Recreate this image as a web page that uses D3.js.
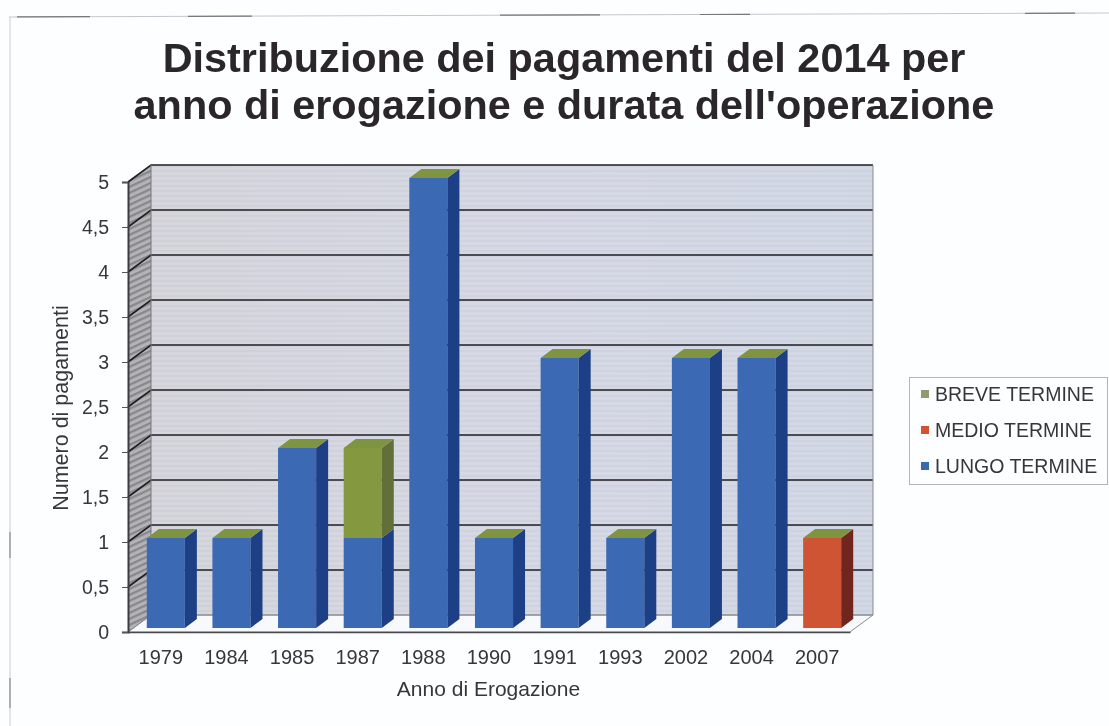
<!DOCTYPE html>
<html>
<head>
<meta charset="utf-8">
<script src="https://cdn.jsdelivr.net/npm/d3@7"></script>
<style>
  html, body { margin: 0; padding: 0; background: #fdfeff; overflow: hidden; }
  svg { display: block; font-family: "Liberation Sans", Arial, sans-serif; filter: blur(0.6px); }
</style>
</head>
<body>
<div id="chart"></div>
<script>
const years = ["1979", "1984", "1985", "1987", "1988", "1990", "1991", "1993", "2002", "2004", "2007"];
const lungoTermine = [1, 1, 2, 1, 5, 1, 3, 1, 3, 3, 0];
const medioTermine = [0, 0, 0, 0, 0, 0, 0, 0, 0, 0, 1];
const breveTermine = [0, 0, 0, 1, 0, 0, 0, 0, 0, 0, 0];
const yTicks = [0, 0.5, 1, 1.5, 2, 2.5, 3, 3.5, 4, 4.5, 5];
const titleLines = ["Distribuzione dei pagamenti del 2014 per", "anno di erogazione e durata dell'operazione"];
const legendLabels = ["BREVE TERMINE", "MEDIO TERMINE", "LUNGO TERMINE"];

const width = 1109, height = 726;
const plot = { left: 128, right: 850, top: 182, bottom: 632 };
const wall = { dx: 23, dy: -17 };   // back wall offset from the front plane
const barOff = { dx: 5, dy: -4 };   // bars sit a little behind the front plane
const depth = { dx: 12, dy: -9 };
const textColor = "#38363a";

const colors = {
    lungo: { front: "#3c69b4", side: "#1c3f85" },
    medio: { front: "#cf5434", side: "#70261f" },
    breve: { front: "#84983f", side: "#626f3a" }
};
const topColor = "#7f9440";

const svg = d3.select("#chart").append("svg").attr("width", width).attr("height", height);
const defs = svg.append("defs");

const xScale = d3.scaleBand().domain(years).range([plot.left, plot.right]).paddingInner(0.42).paddingOuter(0.21);
const yScale = d3.scaleLinear().domain([0, 5]).range([plot.bottom, plot.top]);

// wall fills
const wallGrad = defs.append("linearGradient").attr("id", "wallGrad");
wallGrad.append("stop").attr("offset", "0%").attr("stop-color", "#d6d6dc");
wallGrad.append("stop").attr("offset", "55%").attr("stop-color", "#d6d9e5");
wallGrad.append("stop").attr("offset", "100%").attr("stop-color", "#d2d8e6");

const wallLines = defs.append("pattern").attr("id", "wallLines").attr("patternUnits", "userSpaceOnUse")
    .attr("width", 6).attr("height", 5);
wallLines.append("rect").attr("width", 6).attr("height", 2).attr("fill", "#bfc0cc").attr("opacity", 0.25);

const sideHatch = defs.append("pattern").attr("id", "sideHatch").attr("patternUnits", "userSpaceOnUse")
    .attr("width", 23).attr("height", 6).attr("patternTransform", "skewY(-25)");
sideHatch.append("rect").attr("width", 23).attr("height", 6).attr("fill", "#b4b4b8");
sideHatch.append("rect").attr("width", 23).attr("height", 2.5).attr("fill", "#88888c");

function poly(points) {
    return d3.line()(points) + "Z";
}

// background walls and floor
const x0 = plot.left, x1 = plot.right, y0 = yScale(0), y5 = yScale(5);
const backLeft = x0 + wall.dx, backRight = x1 + wall.dx;

svg.append("rect").attr("x", backLeft).attr("y", y5 + wall.dy)
    .attr("width", backRight - backLeft).attr("height", y0 - y5).attr("fill", "url(#wallGrad)");
svg.append("rect").attr("x", backLeft).attr("y", y5 + wall.dy)
    .attr("width", backRight - backLeft).attr("height", y0 - y5).attr("fill", "url(#wallLines)");

svg.append("path")
    .attr("d", poly([[x0, y5], [backLeft, y5 + wall.dy], [backLeft, y0 + wall.dy], [x0, y0]]))
    .attr("fill", "url(#sideHatch)");

svg.append("path")
    .attr("d", poly([[x0, y0], [backLeft, y0 + wall.dy], [backRight, y0 + wall.dy], [x1, y0]]))
    .attr("fill", "#f8f9fd").attr("stroke", "#8a8a8e").attr("stroke-width", 1);

// grid lines along side wall and back wall
yTicks.forEach(t => {
    const y = yScale(t);
    svg.append("path")
        .attr("d", d3.line()([[x0, y], [backLeft, y + wall.dy], [backRight, y + wall.dy]]))
        .attr("fill", "none")
        .attr("stroke", t === 0 ? "#8a8a8e" : "#1f1f23")
        .attr("stroke-width", t === 0 ? 1 : 1.6);
});
svg.append("line").attr("x1", backRight).attr("x2", backRight)
    .attr("y1", y5 + wall.dy).attr("y2", y0 + wall.dy)
    .attr("stroke", "#8a8a90").attr("stroke-width", 1);
svg.append("line").attr("x1", backLeft).attr("x2", backLeft)
    .attr("y1", y5 + wall.dy).attr("y2", y0 + wall.dy)
    .attr("stroke", "#77777c").attr("stroke-width", 1);

// stacked 3d bars
const stackKeys = ["lungo", "medio", "breve"];
const stackData = years.map((year, i) => ({
    year: year, lungo: lungoTermine[i], medio: medioTermine[i], breve: breveTermine[i]
}));
const series = d3.stack().keys(stackKeys)(stackData);

const bars = svg.append("g").selectAll("g").data(stackData).join("g");

bars.each(function(d) {
    const g = d3.select(this);
    const xa = xScale(d.year) + barOff.dx;
    const xb = xa + xScale.bandwidth();
    let top = 0;
    stackKeys.forEach(key => {
        const s = series.find(v => v.key === key).find(v => v.data.year === d.year);
        if (s[1] === s[0]) return;
        const ya = yScale(s[1]) + barOff.dy;
        const yb = yScale(s[0]) + barOff.dy;
        g.append("rect").attr("x", xa).attr("y", ya).attr("width", xb - xa).attr("height", yb - ya)
            .attr("fill", colors[key].front);
        g.append("path")
            .attr("d", poly([[xb, ya], [xb + depth.dx, ya + depth.dy], [xb + depth.dx, yb + depth.dy], [xb, yb]]))
            .attr("fill", colors[key].side);
        top = s[1];
    });
    const yt = yScale(top) + barOff.dy;
    g.append("path")
        .attr("d", poly([[xa, yt], [xa + depth.dx, yt + depth.dy], [xb + depth.dx, yt + depth.dy], [xb, yt]]))
        .attr("fill", topColor);
});

// axes
const yAxis = d3.axisLeft(yScale).tickValues(yTicks)
    .tickFormat(d => String(d).replace(".", ",")).tickSize(6).tickPadding(13);
const yG = svg.append("g").attr("transform", `translate(${plot.left},0)`).call(yAxis);
yG.select(".domain").attr("stroke", "#3c3c40").attr("stroke-width", 2);
yG.selectAll("line").attr("stroke", "#55555a");
yG.selectAll("text").attr("fill", textColor).style("font-size", "19.5px").style("font-family", "inherit");

const xAxis = d3.axisBottom(xScale).tickSize(0).tickPadding(18);
const xG = svg.append("g").attr("transform", `translate(0,${plot.bottom})`).call(xAxis);
xG.select(".domain").attr("stroke", "#4a4a4e").attr("stroke-width", 1.5);
xG.selectAll("text").attr("fill", textColor).style("font-size", "20px").style("font-family", "inherit");

// axis titles
svg.append("text").attr("x", 488.5).attr("y", 696).attr("text-anchor", "middle")
    .attr("fill", textColor).style("font-size", "21px").text("Anno di Erogazione");
svg.append("text").attr("transform", "translate(68,408) rotate(-90)").attr("text-anchor", "middle")
    .attr("fill", textColor).style("font-size", "21.5px").text("Numero di pagamenti");

// title
svg.selectAll(".title").data(titleLines).join("text").attr("class", "title")
    .attr("x", 564).attr("y", (d, i) => 72 + i * 46.5).attr("text-anchor", "middle")
    .attr("fill", "#2b2729").style("font-size", "41.4px").style("font-weight", "bold").text(d => d);

// legend
const legendColors = ["#8f9a72", colors.medio.front, colors.lungo.front];
const legend = svg.append("g");
legend.append("rect").attr("x", 909.5).attr("y", 377.5).attr("width", 198).attr("height", 107)
    .attr("fill", "#fdfeff").attr("stroke", "#b4b5b9").attr("stroke-width", 1);
legendLabels.forEach((label, i) => {
    const cy = 394 + i * 36;
    legend.append("rect").attr("x", 921).attr("y", cy - 4).attr("width", 8).attr("height", 8)
        .attr("fill", legendColors[i]);
    legend.append("text").attr("x", 935).attr("y", cy + 7).attr("fill", textColor)
        .style("font-size", "19.5px").text(label);
});

// scanned page edges, the frame prints darker in a few places
const edge = svg.append("g");
const edgeTop = d3.scaleLinear().domain([9, 1109]).range([17, 13]);
edge.append("line").attr("x1", 9).attr("y1", edgeTop(9)).attr("x2", 1109).attr("y2", edgeTop(1109))
    .attr("stroke", "#c4c6cc").attr("stroke-width", 1);
edge.append("line").attr("x1", 10).attr("y1", 17).attr("x2", 10).attr("y2", 726)
    .attr("stroke", "#c9ccd4").attr("stroke-width", 1);
[[17, 90], [188, 252], [500, 600], [700, 750], [1025, 1075]].forEach(s => {
    edge.append("line").attr("x1", s[0]).attr("y1", edgeTop(s[0])).attr("x2", s[1]).attr("y2", edgeTop(s[1]))
        .attr("stroke", "#77777c").attr("stroke-width", 1.2);
});
[[532, 558], [678, 708]].forEach(s => {
    edge.append("line").attr("x1", 10).attr("y1", s[0]).attr("x2", 10).attr("y2", s[1])
        .attr("stroke", "#8a8a90").attr("stroke-width", 1.2);
});
</script>
</body>
</html>
